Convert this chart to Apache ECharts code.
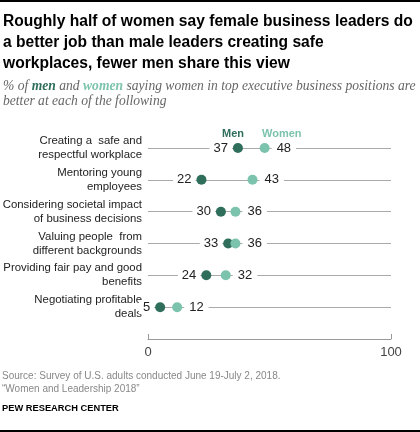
<!DOCTYPE html>
<html>
<head>
<meta charset="utf-8">
<script src="https://cdn.jsdelivr.net/npm/echarts@6/dist/echarts.min.js"></script>
<style>
  html, body { margin: 0; padding: 0; background: #fff; }
  #chart { width: 420px; height: 432px; }
</style>
</head>
<body>
<div id="chart"></div>
<script>
var categories = [
  'Creating a  safe and\nrespectful workplace',
  'Mentoring young\nemployees',
  'Considering societal impact\nof business decisions',
  'Valuing people  from\ndifferent backgrounds',
  'Providing fair pay and good\nbenefits',
  'Negotiating profitable\ndeals',
  ''
]
var men = [37, 22, 30, 33, 24, 5]
var women = [48, 43, 36, 36, 32, 12]
var xTicks = [0, 100]

var menColor = '#2f6e5b'
var womenColor = '#7cc3ad'
var font = 'Liberation Sans, Arial, sans-serif'

var myChart = echarts.init(document.getElementById('chart'))
var option = {
  backgroundColor: '#fff',
  animation: false,
  title: [
    {
      text: 'Roughly half of women say female business leaders do\na better job than male leaders creating safe\nworkplaces, fewer men share this view',
      left: 3,
      top: 11,
      padding: 0,
      textStyle: { fontFamily: font, fontSize: 15.6, fontWeight: 'bold', color: '#000', lineHeight: 21 }
    },
    {
      text: '% of {m|men} and {w|women} saying women in top executive business positions are\nbetter at each of the following',
      left: 3,
      top: 79,
      padding: 0,
      textStyle: {
        fontFamily: 'Liberation Serif, serif', fontSize: 13.6, fontStyle: 'italic', fontWeight: 'normal',
        color: '#666', lineHeight: 15,
        rich: {
          m: { fontFamily: 'Liberation Serif, serif', fontSize: 13.6, fontStyle: 'italic', fontWeight: 'bold', color: menColor },
          w: { fontFamily: 'Liberation Serif, serif', fontSize: 13.6, fontStyle: 'italic', fontWeight: 'bold', color: womenColor }
        }
      }
    },
    {
      text: 'Source: Survey of U.S. adults conducted June 19-July 2, 2018.\n\u201cWomen and Leadership 2018\u201d',
      left: 2,
      top: 370,
      padding: 0,
      textStyle: { fontFamily: font, fontSize: 10, fontWeight: 'normal', color: '#888', lineHeight: 13 }
    },
    {
      text: 'PEW RESEARCH CENTER',
      left: 2,
      top: 404,
      padding: 0,
      textStyle: { fontFamily: font, fontSize: 9.3, fontWeight: 'bold', color: '#000' }
    }
  ],
  graphic: [
    { type: 'rect', left: 0, top: 0, shape: { width: 420, height: 2 }, style: { fill: '#000' } },
    { type: 'rect', left: 0, top: 430, shape: { width: 420, height: 2 }, style: { fill: '#000' } },
    { type: 'text', left: 222, top: 128, style: { text: 'Men', fill: menColor, font: 'bold 11px ' + font } },
    { type: 'text', left: 262, top: 128, style: { text: 'Women', fill: womenColor, font: 'bold 11px ' + font } }
  ],
  grid: {
    left: 148,
    right: 29,
    top: 148,
    bottom: 93,
    outerBoundsMode: 'none'
  },
  xAxis: {
    type: 'value',
    min: xTicks[0],
    max: xTicks[1],
    interval: xTicks[1] - xTicks[0],
    axisLine: { show: true, lineStyle: { color: '#999', width: 1 } },
    axisTick: { show: true, inside: true, length: 5, lineStyle: { color: '#999' } },
    splitLine: { show: false },
    axisLabel: { fontFamily: font, fontSize: 13, color: '#444', margin: 7 }
  },
  yAxis: {
    type: 'category',
    data: categories,
    inverse: true,
    boundaryGap: false,
    axisLine: { show: false },
    axisTick: { show: false },
    splitLine: { show: true, lineStyle: { color: '#aaa', width: 1 } },
    axisLabel: { fontFamily: font, fontSize: 11.4, color: '#222', lineHeight: 14, align: 'right', margin: 6 }
  },
  series: [
    {
      name: 'Men',
      type: 'scatter',
      symbolSize: 10,
      itemStyle: { color: menColor, opacity: 1 },
      label: {
        show: true,
        position: 'left',
        distance: 1,
        formatter: function (p) { return p.value[0] },
        fontFamily: font,
        fontSize: 13,
        color: '#222',
        backgroundColor: '#fff',
        padding: [1, 4, 0, 4]
      },
      data: men.map(function (v, i) { return [v, i] }),
      z: 3
    },
    {
      name: 'Women',
      type: 'scatter',
      symbolSize: 10,
      itemStyle: { color: womenColor, opacity: 1 },
      label: {
        show: true,
        position: 'right',
        distance: 2,
        formatter: function (p) { return p.value[0] },
        fontFamily: font,
        fontSize: 13,
        color: '#222',
        backgroundColor: '#fff',
        padding: [1, 5, 0, 5]
      },
      data: women.map(function (v, i) { return [v, i] }),
      z: 4
    }
  ]
}
option && myChart.setOption(option)
</script>
</body>
</html>
